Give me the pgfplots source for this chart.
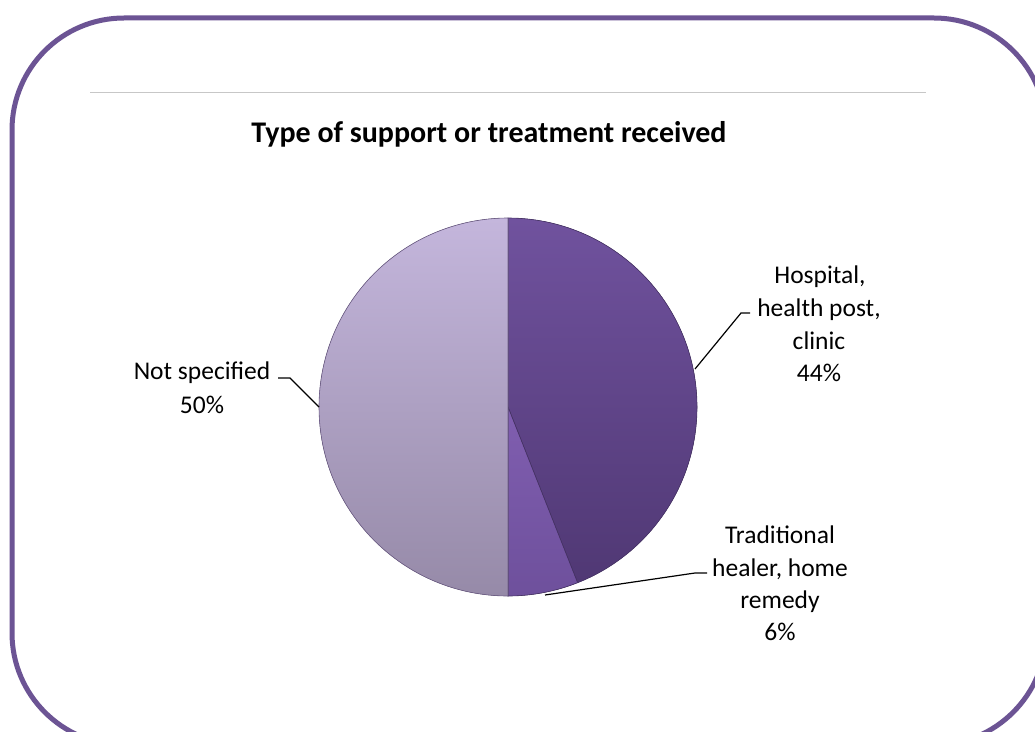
\documentclass[border=0pt]{standalone}
\usepackage{pgfplots}
\pgfplotsset{compat=1.18}
\usepackage{pgfplotstable}
\usepackage{fontspec}
\setmainfont{Carlito}
\definecolor{frame}{RGB}{108,84,148}
\definecolor{hosptop}{RGB}{112,82,158}
\definecolor{hospbot}{RGB}{80,56,116}
\definecolor{tradtop}{RGB}{128,94,176}
\definecolor{tradbot}{RGB}{110,80,156}
\definecolor{nstop}{RGB}{196,182,220}
\definecolor{nsbot}{RGB}{150,138,168}
\definecolor{edge}{RGB}{72,52,104}

\pgfplotstableread{
label value
Hospital 44
Traditional 6
NotSpecified 50
}\piedata
\pgfplotstablegetelem{0}{value}\of\piedata \let\vA\pgfplotsretval
\pgfplotstablegetelem{1}{value}\of\piedata \let\vB\pgfplotsretval
\pgfplotstablegetelem{2}{value}\of\piedata \let\vC\pgfplotsretval
\pgfmathsetmacro{\aA}{90-3.6*\vA}
\pgfmathsetmacro{\aB}{\aA-3.6*\vB}
\pgfmathsetmacro{\aC}{\aB-3.6*\vC}

\begin{document}
\begin{tikzpicture}[x=1bp,y=-1bp]
\useasboundingbox (0,0) rectangle (1035,732);
\clip (0,0) rectangle (1035,732);
\fill[white] (0,0) rectangle (1035,732);
\draw[line width=5bp, frame, rounded corners=112bp] (12,18) rectangle (1046,745);
\draw[line width=1bp, black!22] (90,93) -- (926,93);
\node[anchor=base, font=\fontsize{30bp}{36bp}\selectfont\bfseries] at (489,143) {Type of support or treatment received};

\begin{axis}[at={(508bp,-407bp)}, anchor=center, width=380bp, height=378bp, scale only axis,
  xmin=-1, xmax=1, ymin=-1, ymax=1, hide axis, clip=false]
\fill[top color=hosptop, bottom color=hospbot, draw=edge, line width=0.6bp]
  (axis cs:0,0) -- ++(90:189bp) arc[start angle=90, end angle=\aA, radius=189bp] -- cycle;
\fill[top color=tradtop, bottom color=tradbot, draw=edge, line width=0.6bp]
  (axis cs:0,0) -- ++(\aA:189bp) arc[start angle=\aA, end angle=\aB, radius=189bp] -- cycle;
\fill[top color=nstop, bottom color=nsbot, draw=edge!80, line width=0.6bp]
  (axis cs:0,0) -- ++(\aB:189bp) arc[start angle=\aB, end angle=\aC, radius=189bp] -- cycle;
\end{axis}

\begin{scope}[every node/.style={anchor=base, font=\fontsize{25.5bp}{33bp}\selectfont, inner sep=0pt}]
\node at (820,283) {Hospital,};
\node at (819,316) {health post,};
\node at (819,349) {clinic};
\node at (819,381) {44\%};
\node at (202,379) {Not specified};
\node at (202,413) {50\%};
\node at (780,543) {Traditional};
\node at (780,576) {healer, home};
\node at (780,608) {remedy};
\node at (780,640) {6\%};
\end{scope}
\draw[line width=1.2bp, black] (750,313) -- (741,313) -- (695,369);
\draw[line width=1.2bp, black] (278,378) -- (290,378) -- (319,407);
\draw[line width=1.2bp, black] (707,573) -- (695,573) -- (545,595);
\end{tikzpicture}
\end{document}
